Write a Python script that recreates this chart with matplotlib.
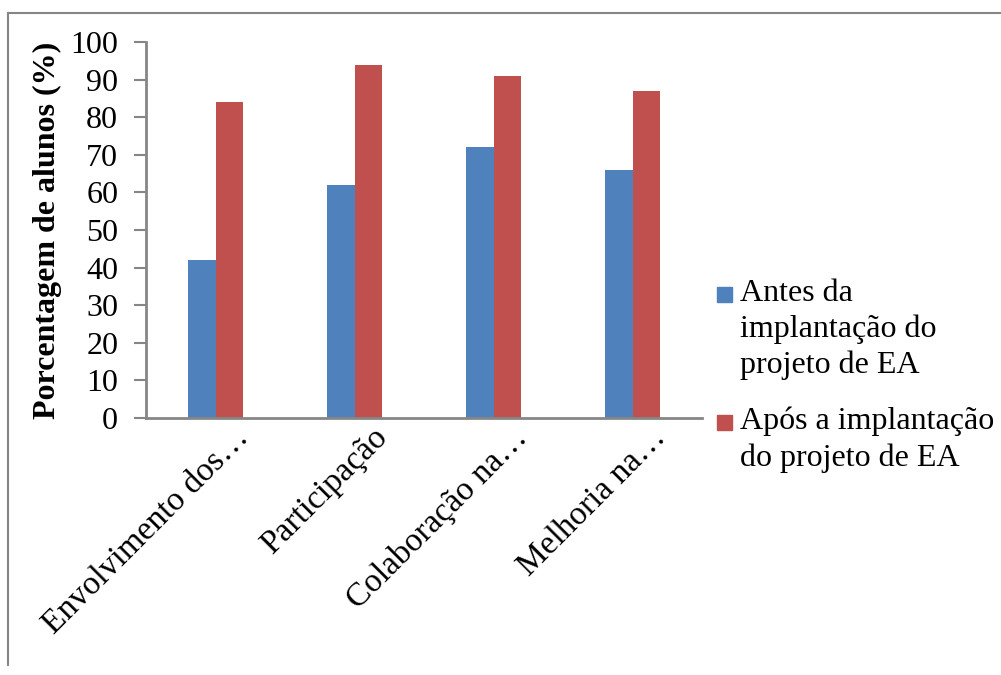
import matplotlib.pyplot as plt
import numpy as np
from matplotlib.patches import Rectangle
from matplotlib.lines import Line2D
from matplotlib.transforms import ScaledTranslation

# Data
categories = ['Envolvimento dos…', 'Participação', 'Colaboração na…', 'Melhoria na…']
antes = [42, 62, 72, 66]
apos = [84, 94, 91, 87]
series_labels = ['Antes da\nimplantação do\nprojeto de EA',
                 'Após a implantação\ndo projeto de EA']
colors = ['#4F81BD', '#C0504D']
grey = '#868686'

plt.rcParams['font.family'] = ['Liberation Serif', 'DejaVu Serif']

fig = plt.figure(figsize=(10.01, 6.75), dpi=100)
ax = fig.add_axes([146 / 1001, 1 - 418 / 675, 556 / 1001, 376 / 675])

x = np.arange(len(categories))
w = 0.2
ax.bar(x - w / 2, antes, w, color=colors[0])
ax.bar(x + w / 2, apos, w, color=colors[1])

ax.set_xlim(-0.5, len(categories) - 0.5)
ax.set_ylim(0, 100)
ax.set_yticks(range(0, 101, 10))
ax.tick_params(axis='y', labelsize=23, colors=grey, labelcolor='black',
               length=9, width=1.5, pad=11)
ax.set_xticks(x)
ax.set_xticklabels(categories, rotation=45, ha='right', rotation_mode='anchor',
                   fontsize=24)
ax.tick_params(axis='x', length=0, pad=3)
shift = ScaledTranslation(0.18, 0, fig.dpi_scale_trans)
for lbl in ax.get_xticklabels():
    lbl.set_transform(lbl.get_transform() + shift)
for s in ['top', 'right']:
    ax.spines[s].set_visible(False)
for s in ['left', 'bottom']:
    ax.spines[s].set_color(grey)
    ax.spines[s].set_linewidth(2)
ax.set_ylabel('Porcentagem de alunos (%)', fontsize=23, fontweight='bold', labelpad=6)

# legend drawn by hand so the marker sits at the first line
leg_y = [294, 422]
for lab, col, yy in zip(series_labels, colors, leg_y):
    fig.patches.append(Rectangle((717 / 1001, 1 - (yy + 8) / 675), 15 / 1001, 15 / 675,
                                 transform=fig.transFigure, color=col))
    fig.text(740 / 1001, 1 - (yy - 15) / 675, lab, fontsize=23, va='top',
             linespacing=1.3)

# chart border (top and left visible)
fig.add_artist(Line2D([8 / 1001, 1], [1 - 13 / 675, 1 - 13 / 675],
                      transform=fig.transFigure, color=grey, lw=1.5))
fig.add_artist(Line2D([8 / 1001, 8 / 1001], [1 - 13 / 675, 1 - 665 / 675],
                      transform=fig.transFigure, color=grey, lw=1.5))

fig.savefig('out.png', dpi=100)
